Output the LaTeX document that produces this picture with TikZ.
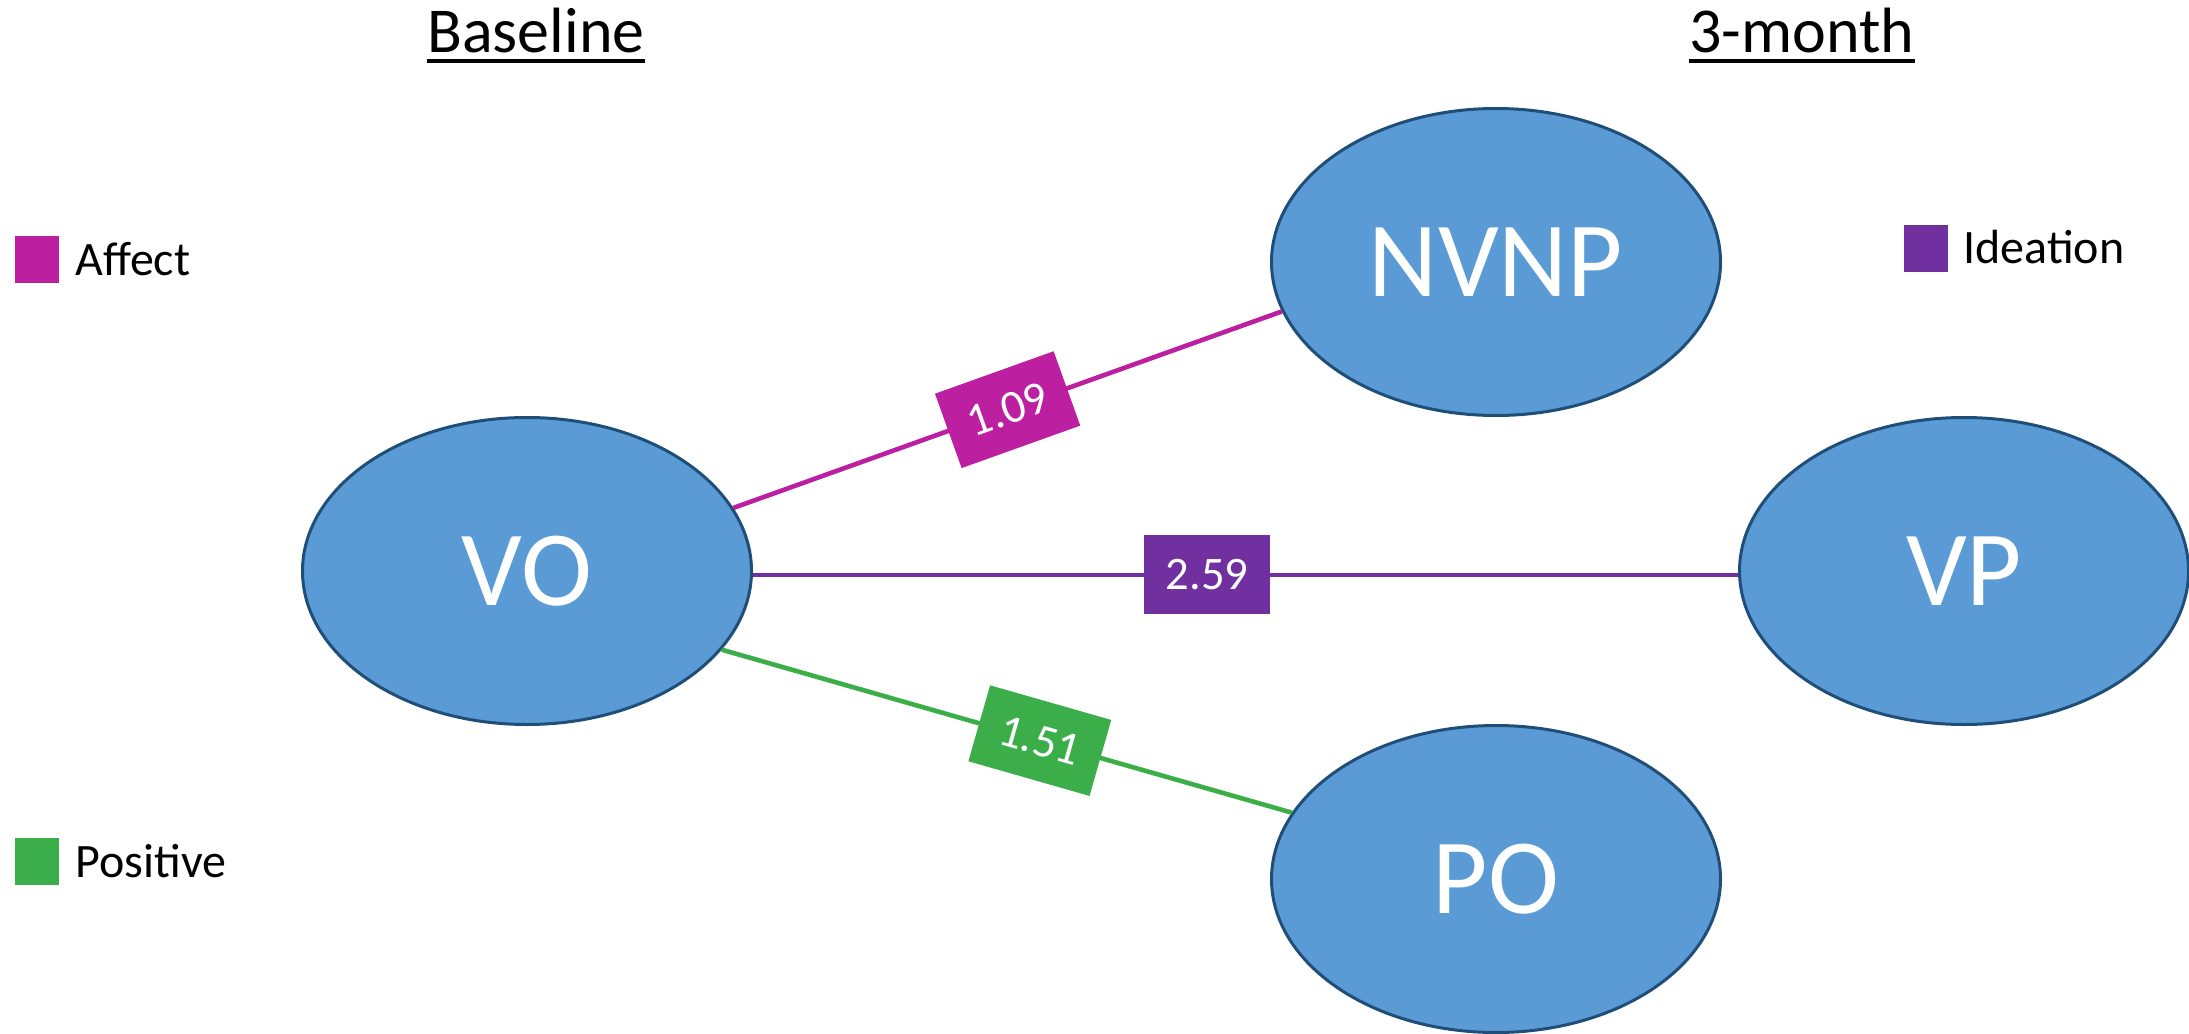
\documentclass[tikz,border=0pt]{standalone}
\usepackage{fontspec}
\setmainfont{Carlito}
\usetikzlibrary{shapes.geometric}
\definecolor{nodefill}{HTML}{5B9BD5}
\definecolor{nodeedge}{HTML}{1F4E79}
\definecolor{affectc}{HTML}{BC1F9F}
\definecolor{ideac}{HTML}{7030A0}
\definecolor{posc}{HTML}{3BAE49}

\begin{document}
\begin{tikzpicture}[x=0.5pt,y=0.5pt,
  state/.style={ellipse, draw=nodeedge, line width=1.5pt, fill=nodefill,
    minimum width=224.5pt, minimum height=153.5pt, inner sep=0pt,
    text=white, font=\fontsize{53.5}{60}\selectfont},
  link/.style={line width=2.3pt},
  weight/.style={sloped, minimum width=63pt, minimum height=39.5pt,
    inner sep=0pt, text=white, font=\fontsize{23.3}{28}\selectfont},
  header/.style={inner sep=0pt, anchor=base, font=\fontsize{32}{38}\selectfont},
  swatch/.style={minimum width=22pt, minimum height=23.5pt, inner sep=0pt,
    anchor=north west},
  legendtext/.style={inner sep=0pt, anchor=base west,
    font=\fontsize{24}{29}\selectfont}
]
\useasboundingbox (0,0) rectangle (2189,-1033);

% column headings
\node[header] (hbase) at (536,-52) {Baseline};
\node[header] (hthree) at (1802,-52) {3-month};
\draw[line width=2pt] ([yshift=-4.5pt]hbase.base west) -- ([yshift=-4.5pt]hbase.base east);
\draw[line width=2pt] ([yshift=-4.5pt]hthree.base west) -- ([yshift=-4.5pt]hthree.base east);

% legend
\node[swatch, fill=affectc] (sqaff) at (15,-236) {};
\node[legendtext] (laff) at (75,-275) {Affect};
\node[swatch, fill=posc] (sqpos) at (15,-838) {};
\node[legendtext] (lpos) at (75,-877) {Positive};
\node[swatch, fill=ideac] (sqide) at (1904,-225) {};
\node[legendtext] (lide) at (1963,-263) {Ideation};

% variables
\node[state] (VO) at (527,-571) {VO};
\node[state] (NVNP) at (1496,-262) {NVNP};
\node[state] (VP) at (1964,-571) {VP};
\node[state] (PO) at (1496,-879) {PO};

% associations with their weights
\draw[link, affectc] (VO.17.85) -- node[weight, fill=affectc, pos=0.5] (waff) {1.09} (NVNP.193.66);
\draw[link, ideac] (VO.-1.5) -- node[weight, fill=ideac, pos=0.461] (wide) {2.59} (VP.181.5);
\draw[link, posc] (VO.-22.05) -- node[weight, fill=posc, pos=0.558] (wpos) {1.51} (PO.162.5);
\end{tikzpicture}
\end{document}
